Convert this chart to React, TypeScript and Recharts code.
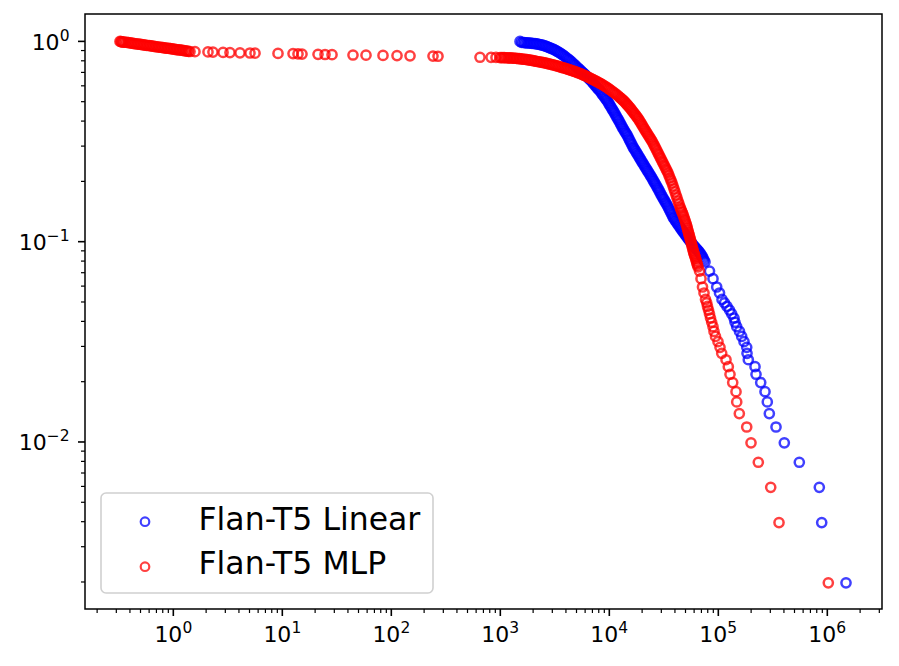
import { Legend, ReferenceArea, Scatter, ScatterChart, XAxis, YAxis } from "recharts";

// axis limits
const X_DOMAIN: [number, number] = [0.1548, 3.175e6];
const Y_DOMAIN: [number, number] = [0.001466, 1.37];

const xMajorTicks = [1, 10, 100, 1000, 10000, 100000, 1000000];
const xMajorLabels = ["0", "1", "2", "3", "4", "5", "6"];
const yMajorTicks = [0.01, 0.1, 1];
const yMajorLabels = ["\u22122", "\u22121", "0"];
const minorSteps = [2, 3, 4, 5, 6, 7, 8, 9];
const xDecades = [0.1, 1, 10, 100, 1000, 10000, 100000, 1000000];
const yDecades = [0.001, 0.01, 0.1];

// Flan-T5 MLP: the low cluster (x < 1) and the sparse flat run
const mlpLowX = [
	0.324, 0.338, 0.353, 0.376, 0.401, 0.427, 0.455, 0.484, 0.516, 0.55, 0.586, 0.624, 0.665, 0.709, 0.755, 0.804,
	0.857, 0.913, 0.973, 1.036, 1.104, 1.177, 1.254, 1.336, 1.423, 1.58, 2.08, 2.31, 2.86, 3.31, 4.09, 5.05, 5.62,
	9.13, 12.54, 13.93, 15.16, 21.26, 24.65, 28.58, 44.5, 58.6, 83.9, 112.8, 148.5, 241.3, 268.2,
];
const mlpLowY = [
	1.0, 0.995, 0.992, 0.988, 0.983, 0.977, 0.973, 0.968, 0.964, 0.958, 0.954, 0.95, 0.944, 0.94, 0.935, 0.931, 0.926,
	0.922, 0.918, 0.912, 0.908, 0.904, 0.9, 0.895, 0.89, 0.888, 0.886, 0.884, 0.881, 0.879, 0.877, 0.875, 0.873, 0.871,
	0.869, 0.866, 0.864, 0.862, 0.86, 0.858, 0.855, 0.853, 0.851, 0.849, 0.847, 0.845, 0.843,
];
// the low cluster is solid in the picture: more points read along it
const mlpLowDenseX = [
	0.331, 0.345, 0.364, 0.388, 0.414, 0.441, 0.47, 0.5, 0.533, 0.568, 0.605, 0.644, 0.686, 0.732, 0.779, 0.83, 0.885,
	0.942, 1.004, 1.069, 1.14, 1.215, 1.294, 1.379,
];
const mlpLowDenseY = [
	0.997, 0.993, 0.99, 0.985, 0.98, 0.975, 0.97, 0.966, 0.961, 0.956, 0.952, 0.947, 0.942, 0.937, 0.933, 0.928, 0.924,
	0.92, 0.915, 0.91, 0.906, 0.902, 0.897, 0.892,
];

// Flan-T5 MLP: the dense bend
const mlpBendX = [
	651, 822, 913, 994, 1059, 1128, 1202, 1281, 1364, 1454, 1548, 1650, 1758, 1874, 1995, 2126, 2265, 2414, 2571, 2739,
	2919, 3110, 3313, 3529, 3761, 4007, 4269, 4548, 4845, 5162, 5501, 5861, 6244, 6652, 7088, 7551, 8045, 8570, 9133,
	9730, 10366, 11045, 11767, 12539, 13080, 13644, 14233, 14849, 15484, 16155, 16851, 17579, 18337, 19127, 19953,
	20813, 21710, 22646, 23624, 24643, 25710, 26818, 27977, 29183, 30443, 31754, 33131, 34559, 36052, 37607, 39230,
	40922, 42690, 44530, 45963, 47439, 48966, 50543, 51617, 52722, 53850, 55003, 56169, 57371, 58598, 59852, 61121,
	62429, 63766, 65130,
];
const mlpBendY = [
	0.8331, 0.8321, 0.8312, 0.8302, 0.8293, 0.8283, 0.8273, 0.8255, 0.8236, 0.8207, 0.8179, 0.8142, 0.8105, 0.8058,
	0.8012, 0.7957, 0.7911, 0.7857, 0.7803, 0.7741, 0.7679, 0.7608, 0.7539, 0.7461, 0.7385, 0.7309, 0.7225, 0.7143,
	0.7061, 0.6972, 0.6877, 0.6775, 0.6667, 0.6561, 0.6449, 0.6331, 0.6216, 0.6103, 0.5971, 0.5835, 0.5689, 0.5547,
	0.5402, 0.5243, 0.5136, 0.503, 0.4905, 0.4777, 0.4652, 0.4515, 0.4382, 0.4253, 0.4123, 0.3978, 0.3826, 0.3683,
	0.3546, 0.3418, 0.3294, 0.3175, 0.3039, 0.2903, 0.2772, 0.2647, 0.2528, 0.2415, 0.2306, 0.2203, 0.2079, 0.1964,
	0.1833, 0.171, 0.1596, 0.149, 0.1423, 0.1367, 0.1298, 0.1233, 0.1184, 0.1131, 0.1087, 0.1043, 0.0997, 0.0952,
	0.0909, 0.0873, 0.0844, 0.0811, 0.0778, 0.0748,
];
const mlpBendDenseX = [
	1026, 1093, 1164, 1241, 1322, 1408, 1501, 1598, 1703, 1815, 1934, 2059, 2194, 2338, 2492, 2654, 2827, 3013, 3210,
	3420, 3643, 3882, 4136, 4406, 4694, 5001, 5328, 5678, 6050, 6445, 6866, 7316, 7794, 8304, 8846, 9427, 10043, 10700,
	11401, 12146, 12807, 13360, 13936, 14538, 15167, 15815, 16501, 17212, 17955, 18729, 19536, 20380, 21258, 22175,
	23131, 24130, 25170, 26260, 27392, 28576, 29808, 31094, 32434, 33840, 35299, 36824, 38412, 40070, 41798, 43604,
	45242, 46698, 48198, 49749, 51079, 52164, 53281, 54421, 55586, 56764, 57979, 59219, 60486, 61769, 63091, 64442,
];
const mlpBendDenseY = [
	0.8298, 0.8288, 0.8278, 0.8264, 0.8246, 0.8222, 0.8193, 0.8161, 0.8124, 0.8082, 0.8035, 0.7985, 0.7934, 0.7884,
	0.783, 0.7772, 0.771, 0.7644, 0.7574, 0.75, 0.7423, 0.7347, 0.7267, 0.7184, 0.7102, 0.7017, 0.6925, 0.6826, 0.6721,
	0.6614, 0.6505, 0.639, 0.6274, 0.616, 0.6037, 0.5903, 0.5762, 0.5618, 0.5475, 0.5323, 0.519, 0.5083, 0.4968,
	0.4841, 0.4715, 0.4584, 0.4449, 0.4318, 0.4188, 0.4051, 0.3902, 0.3755, 0.3615, 0.3482, 0.3356, 0.3235, 0.3107,
	0.2971, 0.2838, 0.271, 0.2588, 0.2472, 0.2361, 0.2255, 0.2141, 0.2022, 0.1899, 0.1772, 0.1653, 0.1543, 0.1457,
	0.1395, 0.1333, 0.1266, 0.1209, 0.1158, 0.1109, 0.1065, 0.102, 0.0975, 0.0931, 0.0891, 0.0859, 0.0828, 0.0795,
	0.0763,
];

// both tails share the same survival fractions
const tailY = [
	0.07129, 0.06535, 0.0594, 0.05545, 0.05149, 0.0495, 0.04752, 0.04554, 0.04356, 0.04158, 0.0396, 0.03762, 0.03564,
	0.03366, 0.03168, 0.0297, 0.02772, 0.02574, 0.02376, 0.02178, 0.0198, 0.01782, 0.01584, 0.01386, 0.01188, 0.0099,
	0.00792, 0.00594, 0.00396, 0.00198,
];
const mlpTailX = [
	67220, 69390, 71610, 73930, 76310, 78270, 79600, 81300, 83040, 84800, 86970, 89410, 91330, 94260, 99360, 103660,
	107450, 117670, 123520, 128030, 135560, 145370, 147530, 155860, 182220, 199530, 232800, 302500, 360500, 1021400,
];

// Flan-T5 Linear
const linearBendX = [
	1516, 1616, 1721, 1834, 1954, 2081, 2218, 2363, 2517, 2682, 2858, 3045, 3243, 3455, 3682, 3923, 4179, 4453, 4744,
	5054, 5385, 5677, 5985, 6310, 6652, 7013, 7393, 7794, 8217, 8662, 9133, 9526, 9936, 10366, 10812, 11279, 11767,
	12274, 12803, 13357, 13932, 14535, 15155, 15814, 16498, 17213, 17954, 18735, 19535, 20381, 21258, 22176, 23133,
	24130, 25172, 26262, 27391, 28576, 29809, 31098, 32434, 33839, 35293, 36818, 38402, 40065, 41790, 43597, 45482,
	47439, 49492, 51617, 53850, 56169, 58598, 61121, 63766, 66520, 69390, 72370, 75510,
];
const linearBendY = [
	1.0, 0.9874, 0.984, 0.9818, 0.9784, 0.9739, 0.9683, 0.9617, 0.9529, 0.9409, 0.9281, 0.9143, 0.8987, 0.8813, 0.8623,
	0.8397, 0.8169, 0.7938, 0.7688, 0.7444, 0.72, 0.7012, 0.683, 0.6636, 0.6441, 0.6251, 0.6033, 0.5835, 0.5656, 0.5426,
	0.5224, 0.5071, 0.4882, 0.4694, 0.452, 0.4342, 0.4166, 0.4006, 0.3839, 0.3675, 0.3538, 0.341, 0.3256, 0.311, 0.297,
	0.2862, 0.2756, 0.2653, 0.255, 0.2457, 0.2366, 0.228, 0.2198, 0.2116, 0.2032, 0.1953, 0.1875, 0.1801, 0.172, 0.1652,
	0.1587, 0.1525, 0.146, 0.1394, 0.1328, 0.1283, 0.124, 0.1198, 0.116, 0.1124, 0.1089, 0.1055, 0.1023, 0.0993, 0.0963,
	0.0938, 0.0914, 0.0891, 0.0863, 0.0829, 0.0792,
];
const linearBendDenseX = [
	1565, 1668, 1776, 1893, 2017, 2148, 2289, 2439, 2598, 2768, 2950, 3143, 3347, 3566, 3801, 4049, 4314, 4596, 4897,
	5217, 5529, 5829, 6145, 6479, 6830, 7201, 7591, 8003, 8437, 8894, 9328, 9730, 10149, 10588, 11043, 11520, 12019,
	12537, 13077, 13643, 14230, 14846, 15479, 16152, 16851, 17581, 18338, 19136, 19953, 20817, 21713, 22651, 23628,
	24646, 25711, 26824, 27977, 29188, 30447, 31764, 33128, 34563, 36048, 37606, 39224, 40922, 42684, 44530, 46455,
	48454, 50551, 52722, 55002, 57371, 59852, 62429, 65131, 67944, 70875, 73919,
];
const linearBendDenseY = [
	0.989, 0.9857, 0.9829, 0.9801, 0.9762, 0.9711, 0.965, 0.9573, 0.9469, 0.9345, 0.9212, 0.9065, 0.89, 0.8718, 0.851,
	0.8283, 0.8054, 0.7813, 0.7566, 0.7322, 0.7106, 0.6921, 0.6733, 0.6539, 0.6346, 0.6142, 0.5934, 0.5746, 0.5541,
	0.5325, 0.5148, 0.4977, 0.4788, 0.4607, 0.4431, 0.4254, 0.4086, 0.3923, 0.3757, 0.3607, 0.3474, 0.3333, 0.3183,
	0.304, 0.2916, 0.2809, 0.2705, 0.2602, 0.2504, 0.2412, 0.2323, 0.2239, 0.2157, 0.2074, 0.1993, 0.1914, 0.1838,
	0.1761, 0.1686, 0.162, 0.1556, 0.1493, 0.1427, 0.1361, 0.1306, 0.1262, 0.1219, 0.1179, 0.1142, 0.1107, 0.1072,
	0.1039, 0.1008, 0.0978, 0.0951, 0.0926, 0.0903, 0.0877, 0.0846, 0.081,
];
const linearTailX = [
	83040, 89410, 96670, 102570, 108130, 114000, 120190, 126710, 132730, 139320, 142330, 147530, 156510, 163960, 172130,
	182220, 183370, 188460, 217160, 221760, 244910, 268170, 281510, 293760, 338390, 403250, 553500, 844700, 888500,
	1484500,
];

const SERIES = [
	{ name: "Flan-T5 Linear", color: "#0000ff" },
	{ name: "Flan-T5 MLP", color: "#ff0000" },
];

const FONT = "DejaVu Sans";

const zip = (xs: number[], ys: number[]) => xs.map((x, i) => ({ x, y: ys[i] }));

const linearData = [
	...zip(linearBendX, linearBendY),
	...zip(linearBendDenseX, linearBendDenseY),
	...zip(linearTailX, tailY),
];
const mlpData = [
	...zip(mlpLowX, mlpLowY),
	...zip(mlpLowDenseX, mlpLowDenseY),
	...zip(mlpBendX, mlpBendY),
	...zip(mlpBendDenseX, mlpBendDenseY),
	...zip(mlpTailX, tailY),
];

const inside = (v: number, [lo, hi]: [number, number]) => v >= lo && v <= hi;
const xMinorTicks = xDecades.flatMap((d) => minorSteps.map((s) => d * s)).filter((v) => inside(v, X_DOMAIN));
const yMinorTicks = yDecades.flatMap((d) => minorSteps.map((s) => d * s)).filter((v) => inside(v, Y_DOMAIN));

function XTick(props: any) {
	const { x, y, payload } = props;
	const idx = xMajorTicks.indexOf(payload.value);
	const major = idx >= 0;
	return (
		<g>
			<line x1={x} x2={x} y1={y} y2={y + (major ? 7 : 4)} stroke="#000" strokeWidth={major ? 1.6 : 1.2} />
			{major && (
				<text x={x} y={y + 33} textAnchor="middle" fontFamily={FONT} fontSize={22} fill="#000">
					10
					<tspan dy={-9} fontSize={15.5}>
						{xMajorLabels[idx]}
					</tspan>
				</text>
			)}
		</g>
	);
}

function YTick(props: any) {
	const { x, y, payload } = props;
	const idx = yMajorTicks.indexOf(payload.value);
	const major = idx >= 0;
	return (
		<g>
			<line x1={x - (major ? 7 : 4)} x2={x} y1={y} y2={y} stroke="#000" strokeWidth={major ? 1.6 : 1.2} />
			{major && (
				<text x={x - 15.5} y={y + 8.5} textAnchor="end" fontFamily={FONT} fontSize={22} fill="#000">
					10
					<tspan dy={-9} fontSize={15.5}>
						{yMajorLabels[idx]}
					</tspan>
				</text>
			)}
		</g>
	);
}

const ring = (color: string) => (p: any) => (
	<circle cx={p.cx} cy={p.cy} r={4.6} fill="none" stroke={color} strokeOpacity={0.75} strokeWidth={2.5} />
);

function LegendBox() {
	return (
		<svg width={334} height={102}>
			<rect x={1} y={1} width={332} height={100} rx={5} fill="#fff" fillOpacity={0.8} stroke="#d0d0d0" strokeWidth={1.6} />
			{SERIES.map((s, i) => (
				<g key={s.name}>
					<circle cx={45} cy={29.7 + i * 45} r={4.3} fill="none" stroke={s.color} strokeOpacity={0.75} strokeWidth={2.2} />
					<text x={98.5} y={38 + i * 44.3} fontFamily={FONT} fontSize={31.5} fill="#000">
						{s.name}
					</text>
				</g>
			))}
		</svg>
	);
}

export default function App() {
	return (
		<div style={{ position: "absolute", left: 0, top: 0 }}>
			<ScatterChart width={899} height={666} margin={{ top: 14, right: 17, bottom: 0, left: 0 }}>
				<XAxis
					type="number"
					dataKey="x"
					scale="log"
					domain={X_DOMAIN}
					allowDataOverflow
					ticks={[...xMajorTicks, ...xMinorTicks]}
					interval={0}
					tick={(p: any) => <XTick {...p} />}
					tickLine={false}
					axisLine={false}
					tickSize={0}
					tickMargin={0}
					height={57}
				/>
				<YAxis
					type="number"
					dataKey="y"
					scale="log"
					domain={Y_DOMAIN}
					allowDataOverflow
					ticks={[...yMajorTicks, ...yMinorTicks]}
					interval={0}
					tick={(p: any) => <YTick {...p} />}
					tickLine={false}
					axisLine={false}
					tickSize={0}
					tickMargin={0}
					width={85}
				/>
				<ReferenceArea
					x1={X_DOMAIN[0]}
					x2={X_DOMAIN[1]}
					y1={Y_DOMAIN[0]}
					y2={Y_DOMAIN[1]}
					fill="none"
					fillOpacity={0}
					stroke="#000"
					strokeWidth={1.5}
					ifOverflow="visible"
				/>
				<Scatter name={SERIES[0].name} data={linearData} fill={SERIES[0].color} shape={ring(SERIES[0].color)} isAnimationActive={false} />
				<Scatter name={SERIES[1].name} data={mlpData} fill={SERIES[1].color} shape={ring(SERIES[1].color)} isAnimationActive={false} />
				<Legend
					layout="vertical"
					align="center"
					verticalAlign="middle"
					content={() => <LegendBox />}
					wrapperStyle={{ left: 100, top: 492, width: 334, height: 102 }}
				/>
			</ScatterChart>
		</div>
	);
}
